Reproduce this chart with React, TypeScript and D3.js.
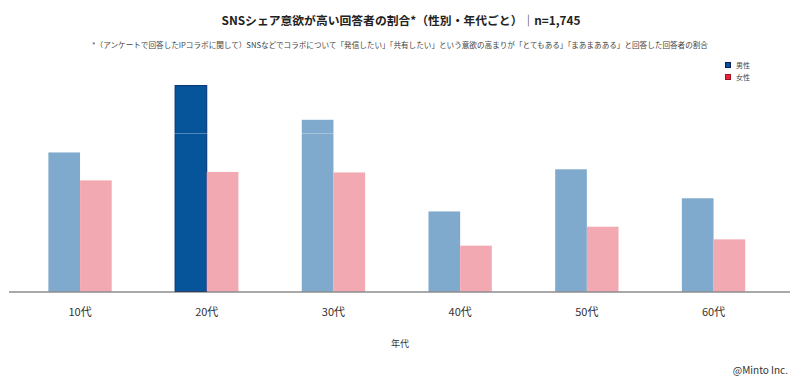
import React from "react";
import * as d3 from "d3";

const categories = ["10代", "20代", "30代", "40代", "50代", "60代"];
const maleValues = [26.4, 39.1, 32.6, 15.2, 23.2, 17.7];
const femaleValues = [21.1, 22.7, 22.6, 8.7, 12.3, 9.9];
const highlightCategory = "20代";
const seriesNames = ["男性", "女性"];
const gridValues = [30];

const W = 800;
const H = 383;
const FONT = "'Noto Sans CJK JP', 'Noto Sans', sans-serif";

export default function App() {
  const x0 = d3
    .scaleBand<string>()
    .domain(categories)
    .range([16.7, 776.9])
    .paddingInner(0.5)
    .paddingOuter(0.25);
  const x1 = d3
    .scaleBand<string>()
    .domain(seriesNames)
    .range([0, x0.bandwidth()]);
  const y = d3.scaleLinear().domain([0, 40]).range([291.5, 291.5 - 40 * 5.267]);

  const colors = {
    maleLight: "#80aacd",
    maleDark: "#06559b",
    maleDarkStroke: "#0a2f73",
    female: "#f2a9b2",
  };

  return (
    <svg
      width={W}
      height={H}
      viewBox={`0 0 ${W} ${H}`}
      style={{ position: "absolute", left: 0, top: 0, background: "#fff" }}
      fontFamily={FONT}
    >
      <text x={401} y={25} textAnchor="middle" fontSize={11.8} fontWeight={700} fill="#222">
        SNSシェア意欲が高い回答者の割合*（性別・年代ごと）｜n=1,745
      </text>
      <text x={400} y={48} textAnchor="middle" fontSize={7.6} fill="#444">
        *（アンケートで回答したIPコラボに関して）SNSなどでコラボについて「発信したい」「共有したい」という意欲の高まりが「とてもある」「まあまあある」と回答した回答者の割合
      </text>

      {/* legend */}
      <g fontSize={7} fill="#444">
        <rect x={725.5} y={62.5} width={5} height={5} fill="#0a4f9a" stroke="#081f55" strokeWidth={1} />
        <text x={736} y={67.5}>{seriesNames[0]}</text>
        <rect x={725.5} y={74.5} width={5} height={5} fill="#e0283e" stroke="#a3101f" strokeWidth={1} />
        <text x={736} y={79.5}>{seriesNames[1]}</text>
      </g>

      {/* bars */}
      {categories.map((c, i) => {
        const gx = x0(c)!;
        const isHi = c === highlightCategory;
        return (
          <g key={c} transform={`translate(${gx},0)`}>
            <rect
              x={x1(seriesNames[0])!}
              y={y(maleValues[i])}
              width={x1.bandwidth()}
              height={y(0) - y(maleValues[i])}
              fill={isHi ? colors.maleDark : colors.maleLight}
              stroke={isHi ? colors.maleDarkStroke : "none"}
              strokeWidth={isHi ? 1 : 0}
            />
            <rect
              x={x1(seriesNames[1])!}
              y={y(femaleValues[i])}
              width={x1.bandwidth()}
              height={y(0) - y(femaleValues[i])}
              fill={colors.female}
            />
          </g>
        );
      })}

      {/* faint grid line visible over bars */}
      {gridValues.map((g) => (
        <line
          key={g}
          x1={9}
          x2={790}
          y1={y(g)}
          y2={y(g)}
          stroke="#ffffff"
          strokeOpacity={0.3}
          strokeWidth={1}
        />
      ))}

      {/* axis */}
      <line x1={9} x2={790} y1={292} y2={292} stroke="#555" strokeWidth={1.2} />
      {categories.map((c) => (
        <text
          key={c}
          x={x0(c)! + x0.bandwidth() / 2}
          y={316}
          textAnchor="middle"
          fontSize={11}
          fill="#333"
        >
          {c}
        </text>
      ))}
      <text x={400} y={347} textAnchor="middle" fontSize={9} fill="#333">
        年代
      </text>
      <text x={788} y={374} textAnchor="end" fontSize={10} fill="#333">
        @Minto Inc.
      </text>
    </svg>
  );
}
